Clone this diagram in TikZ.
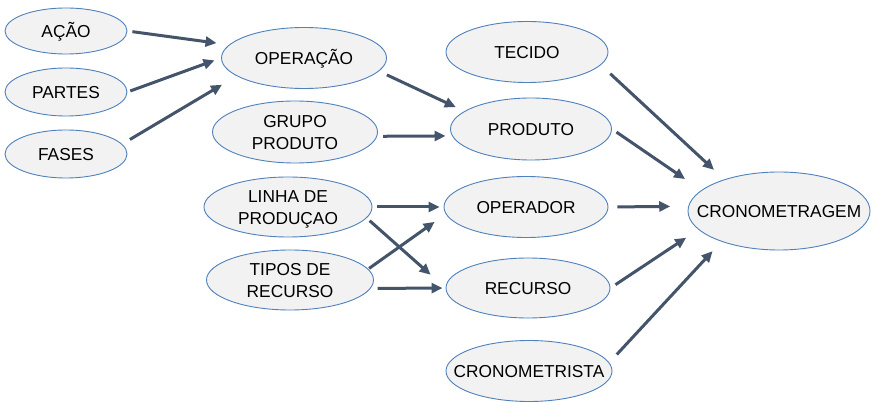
\documentclass[tikz,border=0pt]{standalone}
\usepackage{fontspec}
\setmainfont{Liberation Sans}
\usetikzlibrary{shapes.geometric,arrows.meta}

\definecolor{ovalfill}{HTML}{F2F2F2}
\definecolor{ovaldraw}{HTML}{4F81BD}
\definecolor{arrowcol}{HTML}{44546A}
\newcommand{\otxt}[1]{\makebox[0pt]{\raisebox{-6.5pt}[0pt][0pt]{\begin{tabular}{@{}c@{}}#1\end{tabular}}}}

\tikzset{
  oval/.style={ellipse,draw=ovaldraw,fill=ovalfill,line width=0.9pt,inner sep=0pt,
    font=\fontsize{17.3}{22}\selectfont},
  link/.style={draw=arrowcol,line width=3pt,-{Triangle[length=11pt,width=10pt]}}
}

\begin{document}
\begin{tikzpicture}[x=1pt,y=-1pt]
        \fill[white] (0,0) rectangle (878,411);
        \useasboundingbox (0,0) rectangle (878,411);
        % left column
        \node[oval,minimum width=122pt,minimum height=46pt] (acao) at (66,31) {\otxt{AÇÃO}};
        \node[oval,minimum width=122pt,minimum height=48pt] (partes) at (66,92) {\otxt{PARTES}};
        \node[oval,minimum width=122pt,minimum height=48pt] (fases) at (66,154) {\otxt{FASES}};
        % second column
        \node[oval,minimum width=165pt,minimum height=61pt] (operacao) at (304,58) {\otxt{OPERAÇÃO}};
        \node[oval,minimum width=165pt,minimum height=62pt] (grupo) at (295,132) {\otxt{GRUPO\\PRODUTO}};
        \node[oval,minimum width=168pt,minimum height=60pt] (linha) at (288,207) {\otxt{LINHA DE\\PRODUÇAO}};
        \node[oval,minimum width=167pt,minimum height=60pt] (tipos) at (290,280) {\otxt{TIPOS DE\\RECURSO}};
        % third column
        \node[oval,minimum width=162pt,minimum height=61pt] (tecido) at (527,52) {\otxt{TECIDO}};
        \node[oval,minimum width=161pt,minimum height=62pt] (produto) at (531,129) {\otxt{PRODUTO}};
        \node[oval,minimum width=164pt,minimum height=61pt] (operador) at (526,207) {\otxt{OPERADOR}};
        \node[oval,minimum width=164pt,minimum height=60pt] (recurso) at (528,288) {\otxt{RECURSO}};
        \node[oval,minimum width=166pt,minimum height=61pt] (cronometrista) at (529,371) {\otxt{CRONOMETRISTA}};
        % result
        \node[oval,minimum width=182pt,minimum height=78pt] (crono) at (779,211) {\otxt{CRONOMETRAGEM}};

        \draw[link,shorten <=5pt,shorten >=12.6pt] (acao.east) -- (operacao.170);
        \draw[link,shorten <=3pt,shorten >=7pt] (partes.east) -- (operacao.west);
        \draw[link,shorten <=9pt,shorten >=17pt] (fases.10) -- (operacao.195);
        \draw[link,shorten <=8.7pt,shorten >=9.5pt] (operacao.-10) -- (produto.165);
        \draw[link,shorten <=6pt,shorten >=6.5pt] (grupo.-3) -- (produto.185);
        \draw[link,shorten <=5pt,shorten >=4pt] (linha.east) -- (operador.west);
        \draw[link,shorten <=4pt,shorten >=20pt] (linha.-8) -- (recurso.west);
        \draw[link,shorten <=1pt,shorten >=13.6pt] (tipos.8) -- (operador.185);
        \draw[link,shorten <=7pt,shorten >=3pt] (tipos.-6) -- (recurso.west);
        \draw[link,shorten <=12.8pt,shorten >=14pt] (tecido.-10) -- (crono.150);
        \draw[link,shorten <=5.5pt,shorten >=19.7pt] (produto.east) -- (crono.165);
        \draw[link,shorten <=9pt,shorten >=18pt] (operador.east) -- (crono.177);
        \draw[link,shorten <=6pt,shorten >=14.7pt] (recurso.east) -- (crono.193);
        \draw[link,shorten <=11pt,shorten >=13pt] (cronometrista.6) -- (crono.208);
    \end{tikzpicture}
\end{document}
